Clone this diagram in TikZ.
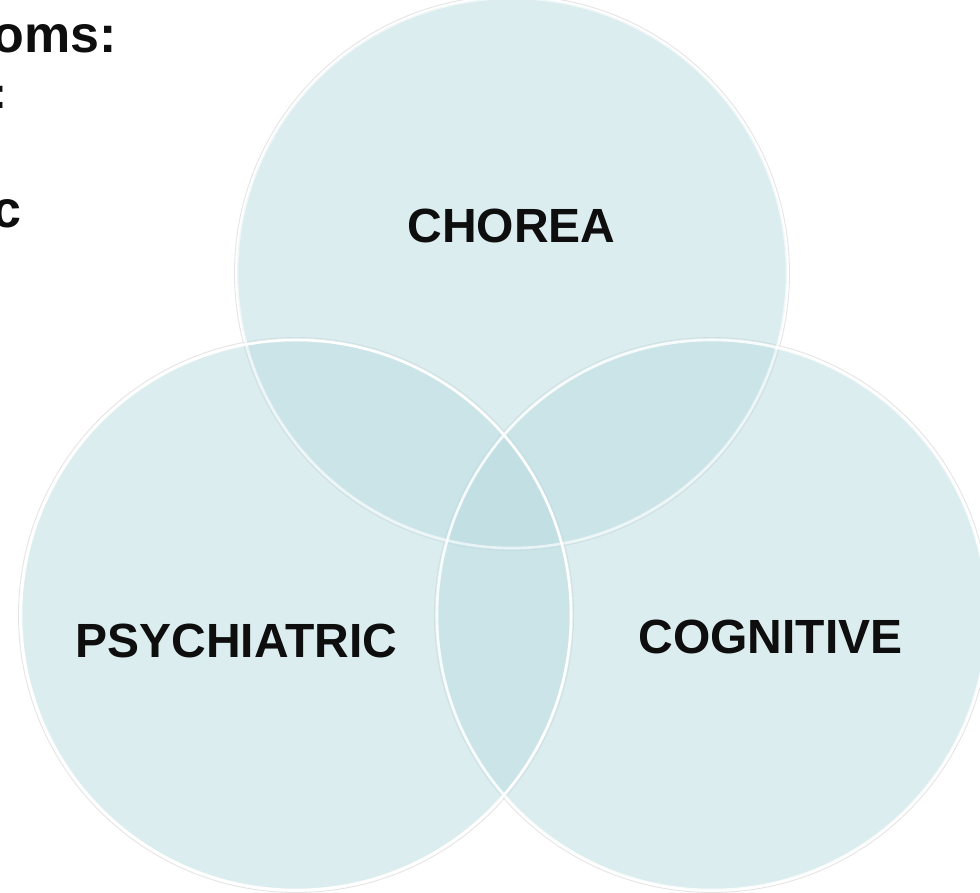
\documentclass[tikz,border=0pt]{standalone}
\usepackage{fontspec}
\setmainfont{Liberation Sans}
\definecolor{vennfill}{RGB}{187,220,226}
\definecolor{inkblack}{RGB}{14,14,14}
\begin{document}
\begin{tikzpicture}[x=1pt,y=-1pt,
  disc/.style={fill=vennfill, fill opacity=0.51},
  rim/.style={draw=white, line width=2.6pt},
  halo/.style={draw=black!10, line width=0.9pt},
  vlabel/.style={font=\bfseries\fontsize{48}{56}\selectfont, text=inkblack, inner sep=0pt},
  sidetext/.style={font=\bfseries\fontsize{52}{60}\selectfont, text=inkblack, inner sep=0pt}]
\useasboundingbox (0,0) rectangle (980,892);
\fill[white] (0,0) rectangle (980,892);

% circle centres
\coordinate (ct) at (512,273);
\coordinate (cl) at (296,615);
\coordinate (cr) at (712,615);

% soft outer halo
\foreach \c in {ct,cl,cr} \draw[halo] (\c) circle[radius=277.5];

% translucent discs
\fill[disc] (ct) circle[radius=275];
\fill[disc] (cl) circle[radius=275];
\fill[disc] (cr) circle[radius=275];

% white rims, the lower two on top
\draw[rim, draw opacity=0.6] (ct) circle[radius=275];
\draw[rim, draw opacity=0.85] (cr) circle[radius=275];
\draw[rim] (cl) circle[radius=275];

% circle labels
\node[vlabel, anchor=base] (chorea) at (511.5,242) {CHOREA};
\node[vlabel, anchor=base] (psych) at (236.5,657) {PSYCHIATRIC};
\node[vlabel, anchor=base] (cogn) at (770.5,653) {COGNITIVE};

% heading lines running off the left edge
\node[sidetext, anchor=base east] (head1) at (117,52) {oms:};
\node[font=\bfseries\fontsize{44}{50}\selectfont, text=inkblack, inner sep=0pt, anchor=base east] (head2) at (7.5,108) {:};
\node[sidetext, anchor=base east] (head3) at (22,227) {c};
\end{tikzpicture}
\end{document}
